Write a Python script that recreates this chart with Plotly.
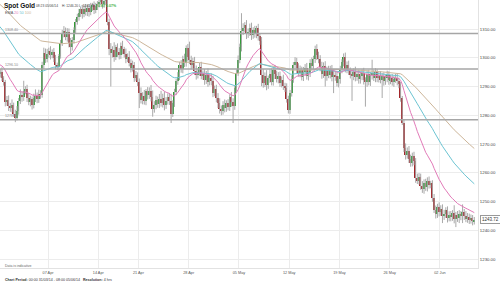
import plotly.graph_objects as go

# ---------------- data (4-hour bars, 31/03/14 .. 05/06/14) ----------------
first_open = 1295.0
closes = [
    1294.5, 1295.2, 1292.8, 1291.5, 1284.6, 1285.3,
    1283.2, 1282.4, 1283.5, 1280.6, 1279.2, 1281.5,
    1284.8, 1286.9, 1286.2, 1288.4, 1289.1, 1286.0,
    1284.7, 1285.6, 1283.4, 1285.9, 1286.8, 1285.7,
    1287.4, 1286.9, 1297.6, 1301.8, 1299.5, 1301.2,
    1302.4, 1300.9, 1302.1, 1299.8, 1297.4, 1296.9,
    1300.6, 1305.3, 1308.5, 1309.4, 1307.2, 1308.9,
    1305.1, 1303.6, 1306.2, 1309.8, 1312.4, 1314.1,
    1315.6, 1316.8, 1315.2, 1317.1, 1316.0, 1317.4,
    1315.9, 1317.6, 1318.3, 1316.7, 1318.0, 1318.8,
    1319.4, 1320.3, 1318.6, 1319.8, 1320.6, 1312.6,
    1303.2, 1301.5, 1302.8, 1300.4, 1303.6, 1301.9,
    1300.8, 1304.2, 1302.9, 1301.4, 1299.6, 1300.3,
    1298.2, 1296.5, 1297.4, 1293.1, 1294.0, 1291.6,
    1287.9, 1285.4, 1286.7, 1284.9, 1288.3, 1287.0,
    1288.6, 1286.3, 1282.1, 1283.7, 1285.2, 1283.9,
    1285.6, 1284.2, 1286.1, 1283.5, 1284.8, 1286.4,
    1285.1, 1280.6, 1284.3, 1288.1, 1291.9, 1293.4,
    1297.5, 1296.2, 1299.4, 1298.1, 1303.4, 1300.2,
    1299.1, 1297.6, 1298.8, 1295.4, 1293.9, 1295.2,
    1296.8, 1293.7, 1294.5, 1292.2, 1294.1, 1291.6,
    1293.0, 1291.8, 1287.9, 1289.2, 1286.0, 1284.3,
    1282.2, 1281.4, 1283.6, 1282.5, 1284.1, 1282.8,
    1286.2, 1284.5, 1283.1, 1289.6, 1294.8, 1299.3,
    1303.6, 1309.2, 1310.4, 1311.3, 1308.1, 1309.0,
    1310.5, 1307.8, 1309.6, 1308.3, 1310.2, 1307.4,
    1305.8, 1294.1, 1291.2, 1293.6, 1290.4, 1292.8,
    1294.5, 1291.7, 1295.9, 1294.2, 1292.6, 1293.8,
    1291.3, 1292.4, 1290.1, 1289.6, 1285.8, 1281.7,
    1287.9, 1292.6, 1297.4, 1298.6, 1296.3, 1294.8,
    1295.7, 1293.4, 1294.9, 1296.5, 1293.8, 1294.6,
    1298.3, 1297.1, 1299.6, 1303.2, 1300.8, 1299.4,
    1296.7, 1294.3, 1297.2, 1293.5, 1295.8, 1294.1,
    1295.9, 1293.2, 1294.1, 1293.6, 1291.2, 1292.5,
    1295.8, 1298.4, 1300.1, 1296.2, 1297.5, 1295.4,
    1294.1, 1293.7, 1295.0, 1293.2, 1294.4, 1292.6,
    1293.5, 1294.8, 1292.1, 1291.4, 1294.2, 1291.6,
    1293.9, 1294.6, 1293.1, 1294.9, 1292.8, 1293.7,
    1292.4, 1293.5, 1291.8, 1292.9, 1294.0, 1292.2,
    1292.8, 1291.5, 1292.6, 1293.1, 1291.9, 1290.7,
    1285.9, 1277.4, 1268.6, 1266.2, 1267.5, 1264.9,
    1263.5, 1265.8, 1264.2, 1258.1, 1257.3, 1258.6,
    1255.4, 1254.2, 1256.3, 1255.1, 1257.2, 1255.8,
    1256.4, 1251.3, 1247.2, 1245.6, 1248.1, 1246.4,
    1247.5, 1244.9, 1245.8, 1246.9, 1244.3, 1245.4,
    1244.6, 1245.9, 1243.8, 1245.2, 1244.1, 1245.6,
    1244.8, 1246.2, 1245.1, 1244.0, 1244.7, 1243.5,
    1244.3, 1243.1, 1243.72,
]
wick_up = [
    1.2, 0.9, 1.5, 0.8, 0.8, 1.4,  1.6, 1.1, 2.0, 0.9, 1.3, 1.7,
    1.2, 2.1, 1.4, 3.6, 1.0, 1.5,  1.8, 1.2, 0.9, 1.6, 2.2, 1.1,
    1.5, 1.3, 1.0, 1.7, 1.4, 1.9,  1.1, 1.6, 0.8, 1.3, 1.2, 0.9,
    0.7, 0.9, 1.2, 1.6, 1.1, 1.4,  1.3, 1.8, 1.0, 0.8, 1.1, 1.2,
    1.4, 0.9, 1.6, 1.2, 1.5, 1.0,  1.2, 1.5, 0.8, 1.3, 1.1, 0.9,
    0.8, 0.6, 1.1, 0.7, 0.5, 0.6,  1.0, 1.9, 1.2, 2.6, 0.9, 1.4,
    1.5, 1.1, 1.7, 0.9, 1.8, 1.2,  2.0, 1.3, 1.6, 1.1, 1.4, 0.9,
    1.2, 1.8, 1.3, 2.1, 0.8, 1.5,  1.1, 1.9, 2.3, 1.2, 1.6, 1.3,
    1.8, 2.9, 1.4, 2.2, 1.5, 1.2,  1.3, 2.4, 0.9, 1.1, 0.8, 1.6,
    1.1, 1.7, 1.3, 2.0, 0.9, 1.4,  5.4, 1.6, 1.2, 1.5, 1.9, 1.1,
    1.4, 1.8, 1.1, 1.6, 1.3, 2.2,  1.2, 1.5, 1.9, 1.1, 1.4, 1.7,
    1.6, 1.2, 1.3, 1.9, 1.1, 1.5,  1.1, 1.9, 1.4, 0.9, 1.2, 1.5,
    1.3, 6.3, 1.6, 1.1, 1.8, 1.2,  1.4, 1.7, 1.0, 1.5, 0.9, 1.6,
    1.2, 1.4, 1.9, 1.3, 2.1, 1.0,  1.5, 1.8, 1.1, 1.6, 1.3, 1.2,
    1.4, 1.1, 1.7, 1.2, 1.5, 1.0,  0.9, 1.3, 1.1, 1.6, 1.4, 1.8,
    1.6, 1.2, 1.9, 1.3, 1.7, 1.1,  1.2, 1.8, 1.1, 1.0, 1.5, 1.3,
    1.5, 1.9, 1.2, 1.6, 1.1, 1.4,  1.3, 1.6, 1.8, 1.2, 1.5, 1.1,
    1.4, 1.1, 1.4, 1.7, 1.2, 1.5,  1.2, 1.6, 1.3, 1.9, 1.1, 1.4,
    1.5, 1.2, 1.7, 1.1, 1.4, 1.6,  1.1, 4.7, 1.3, 1.5, 1.2, 1.4,
    1.6, 1.2, 1.4, 1.1, 1.5, 1.3,  1.2, 1.5, 1.1, 1.3, 1.6, 1.2,
    0.9, 0.8, 1.1, 1.6, 1.3, 1.8,  1.4, 1.2, 1.5, 0.9, 1.6, 1.3,
    1.1, 1.7, 1.4, 1.6, 1.2, 1.5,  0.8, 1.0, 1.3, 1.4, 1.1, 1.6,
    1.2, 1.5, 1.3, 1.1, 1.4, 1.2,  1.3, 1.1, 2.8, 1.2, 1.5, 1.4,
    1.1, 2.8, 1.2, 1.6, 1.3, 1.1,  1.2, 1.0, 0.9,
]
wick_dn = [
    1.1, 1.4, 0.9, 1.2, 1.5, 1.3,  1.7, 1.2, 1.4, 1.1, 1.6, 1.0,
    1.3, 0.9, 1.5, 1.2, 1.1, 1.4,  1.2, 1.6, 1.4, 1.0, 1.3, 1.5,
    1.4, 1.2, 0.8, 1.6, 1.3, 1.1,  1.2, 1.5, 1.1, 1.3, 1.4, 1.2,
    1.3, 0.9, 1.2, 1.4, 1.1, 1.6,  1.5, 2.6, 1.1, 1.3, 1.2, 0.9,
    1.2, 1.4, 1.6, 1.1, 1.3, 1.5,  1.6, 1.1, 1.3, 1.5, 1.2, 1.4,
    1.3, 1.1, 1.5, 1.2, 1.4, 1.3,  2.3, 11.5, 1.4, 1.8, 1.2, 1.6,
    1.4, 1.2, 1.7, 1.3, 1.5, 1.1,  1.2, 1.6, 1.3, 1.5, 1.1, 1.4,
    5.4, 1.3, 1.6, 1.2, 1.4, 1.5,  1.3, 1.5, 2.6, 1.2, 1.6, 1.3,
    1.4, 1.2, 1.5, 1.8, 1.3, 1.1,  1.5, 3.3, 1.2, 1.4, 1.1, 1.3,
    1.2, 1.4, 1.6, 1.3, 1.2, 1.5,  1.3, 1.6, 1.2, 1.4, 1.5, 1.1,
    1.5, 1.2, 1.4, 1.6, 1.3, 1.7,  1.2, 1.4, 1.6, 1.3, 1.5, 1.8,
    1.6, 1.4, 1.2, 1.5, 1.3, 1.1,  1.3, 1.5, 5.8, 1.2, 1.4, 1.1,
    1.2, 1.4, 1.3, 1.5, 1.6, 1.2,  1.4, 1.6, 1.2, 1.3, 1.5, 1.4,
    1.3, 4.0, 1.6, 1.4, 1.7, 1.2,  1.5, 1.3, 1.4, 1.6, 1.2, 1.5,
    1.4, 1.6, 1.3, 1.5, 1.4, 1.1,  1.2, 1.4, 1.3, 1.1, 1.6, 1.4,
    1.6, 1.3, 1.5, 1.2, 1.4, 1.7,  1.3, 1.5, 1.2, 1.4, 1.6, 1.3,
    1.4, 1.6, 1.3, 3.5, 1.5, 1.2,  1.3, 1.4, 5.5, 1.6, 1.2, 1.5,
    1.5, 1.2, 1.4, 1.3, 1.6, 1.4,  1.3, 8.7, 1.5, 1.4, 1.2, 1.6,
    1.6, 1.3, 1.4, 8.4, 1.5, 1.2,  1.4, 1.5, 1.2, 1.6, 1.3, 1.4,
    1.3, 6.4, 1.5, 1.2, 1.4, 1.6,  1.4, 1.2, 1.6, 1.3, 1.5, 1.3,
    1.2, 0.8, 1.4, 1.6, 1.3, 1.5,  1.4, 1.3, 1.6, 1.6, 1.2, 1.4,
    1.3, 1.2, 1.5, 1.4, 1.6, 1.3,  1.2, 1.4, 1.2, 1.5, 1.3, 1.6,
    1.4, 2.4, 1.3, 1.5, 1.6, 1.2,  1.5, 1.3, 1.4, 2.7, 1.2, 1.6,
    1.3, 2.3, 1.5, 1.2, 1.4, 1.3,  1.2, 1.4, 1.1,
]
ema_seed = {20: 1298.2, 50: 1312.0, 100: 1319.5}
ema_colors = {20: "#e27ab8", 50: "#6cc4d2", 100: "#cdb69a"}

week_starts = [30, 60, 84, 114, 144, 174, 204, 234, 264]   # bar index of first bar
week_labels = ["07 Apr", "14 Apr", "21 Apr", "28 Apr", "05 May",
               "12 May", "19 May", "26 May", "02 Jun"]
level_lines = [1308.40, 1296.10, 1278.40]
y_ticks = [1230, 1240, 1250, 1260, 1270, 1280, 1290, 1300, 1310]
last_price = 1243.72

# ---------------- derived ----------------
n = len(closes)
idx = list(range(n))
opens = [first_open] + closes[:-1]
highs = [max(o, c) + u for o, c, u in zip(opens, closes, wick_up)]
lows = [min(o, c) - d for o, c, d in zip(opens, closes, wick_dn)]

def ema(vals, period, seed):
    a = 2.0 / (period + 1)
    out, prev = [], seed
    for v in vals:
        prev = a * v + (1 - a) * prev
        out.append(prev)
    return out

wx, wy = [], []
for i in idx:
    wx += [i, i, None]
    wy += [lows[i], highs[i], None]

GREEN, RED = "#2f9a35", "#a3262a"
body_base = [min(o, c) for o, c in zip(opens, closes)]
body_h = [max(abs(c - o), 0.3) for o, c in zip(opens, closes)]
body_col = [GREEN if c >= o else RED for o, c in zip(opens, closes)]

fig = go.Figure()
fig.add_trace(go.Scatter(x=wx, y=wy, mode="lines",
                         line=dict(color="#a9a9a9", width=1),
                         hoverinfo="skip", showlegend=False))
fig.add_trace(go.Bar(x=idx, y=body_h, base=body_base, width=0.85,
                     marker=dict(color=body_col, line=dict(width=0)),
                     showlegend=False))
for p in (100, 50, 20):
    fig.add_trace(go.Scatter(x=idx, y=ema(closes, p, ema_seed[p]), mode="lines",
                             line=dict(color=ema_colors[p], width=1),
                             showlegend=False))

FONT = "Liberation Sans, Arial, sans-serif"
shapes = []
for lv in level_lines:
    shapes.append(dict(type="line", xref="paper", x0=0, x1=1, yref="y", y0=lv, y1=lv,
                       line=dict(color="#a6a6a6", width=1.5), layer="above"))

def px_x(p):
    return p / 478.0

def px_y(p):
    return 1 - p / 268.0

ann = []
for lv in level_lines:
    ann.append(dict(x=px_x(3), xref="paper", y=lv, yref="y", text=f"{lv:.2f}",
                    showarrow=False, xanchor="left", yanchor="bottom", yshift=0,
                    font=dict(size=3.6, color="#888", family=FONT)))
ann += [
    dict(x=px_x(2), xref="paper", y=px_y(5.5), yref="paper", text="<b>Spot Gold</b>",
         showarrow=False, xanchor="left", yanchor="middle",
         font=dict(size=6.5, color="#111", family=FONT)),
    dict(x=px_x(34), xref="paper", y=px_y(5.5), yref="paper",
         text="08:23 05/06/14", showarrow=False, xanchor="left", yanchor="middle",
         font=dict(size=3.3, color="#444", family=FONT)),
    dict(x=px_x(60), xref="paper", y=px_y(5.5), yref="paper",
         text="H: 1246.20 L: 1241.71", showarrow=False, xanchor="left", yanchor="middle",
         font=dict(size=3.3, color="#444", family=FONT)),
    dict(x=px_x(96), xref="paper", y=px_y(5.5), yref="paper",
         text="<b>0.87 0.07%</b>", showarrow=False, xanchor="left", yanchor="middle",
         font=dict(size=3.6, color="#3cb043", family=FONT)),
    dict(x=px_x(3), xref="paper", y=px_y(12.5), yref="paper",
         text=("EMA <span style='color:%s'>20</span> <span style='color:%s'>50</span>"
               " <span style='color:%s'>100</span>") % (ema_colors[20], ema_colors[50], ema_colors[100]),
         showarrow=False, xanchor="left", yanchor="middle",
         font=dict(size=3.8, color="#555", family=FONT)),
    dict(x=px_x(3), xref="paper", y=px_y(265.5), yref="paper", text="Data is indicative",
         showarrow=False, xanchor="left", yanchor="middle",
         font=dict(size=3.5, color="#666", family=FONT)),
    dict(x=px_x(3), xref="paper", y=px_y(280), yref="paper",
         text="<b>Chart Period:</b> 00:00 31/03/14 - 08:00 05/06/14   <b>Resolution:</b> 4 hrs",
         showarrow=False, xanchor="left", yanchor="middle",
         font=dict(size=3.6, color="#333", family=FONT)),
    dict(x=1.0, xref="paper", xshift=1.5, y=last_price, yref="y", text=f"{last_price:.2f}",
         showarrow=False, xanchor="left", yanchor="middle",
         bgcolor="white", bordercolor="#999", borderwidth=1, borderpad=1,
         font=dict(size=4.5, color="#333", family=FONT)),
]

px_per_bar = 1.675
x0 = 0.84
fig.update_layout(
    width=500, height=284,
    margin=dict(l=0, r=22, t=0, b=16),
    paper_bgcolor="white", plot_bgcolor="white",
    bargap=0, barmode="overlay",
    shapes=shapes, annotations=ann,
    xaxis=dict(range=[x0, x0 + 478 / px_per_bar],
               tickvals=[w - 0.5 for w in week_starts], ticktext=week_labels,
               showgrid=True, gridcolor="#ececec", gridwidth=1,
               zeroline=False, showline=True, linecolor="#e2e2e2",
               ticks="", tickfont=dict(size=3.8, color="#555", family=FONT)),
    yaxis=dict(range=[1226.87, 1320.09], side="right",
               tickvals=y_ticks, tickformat=".2f",
               showgrid=True, gridcolor="#ececec", gridwidth=1,
               zeroline=False, showline=True, linecolor="#e2e2e2", mirror=False,
               ticks="", tickfont=dict(size=4.3, color="#444", family=FONT)),
    font=dict(family=FONT),
)
fig.write_html("out.html")
